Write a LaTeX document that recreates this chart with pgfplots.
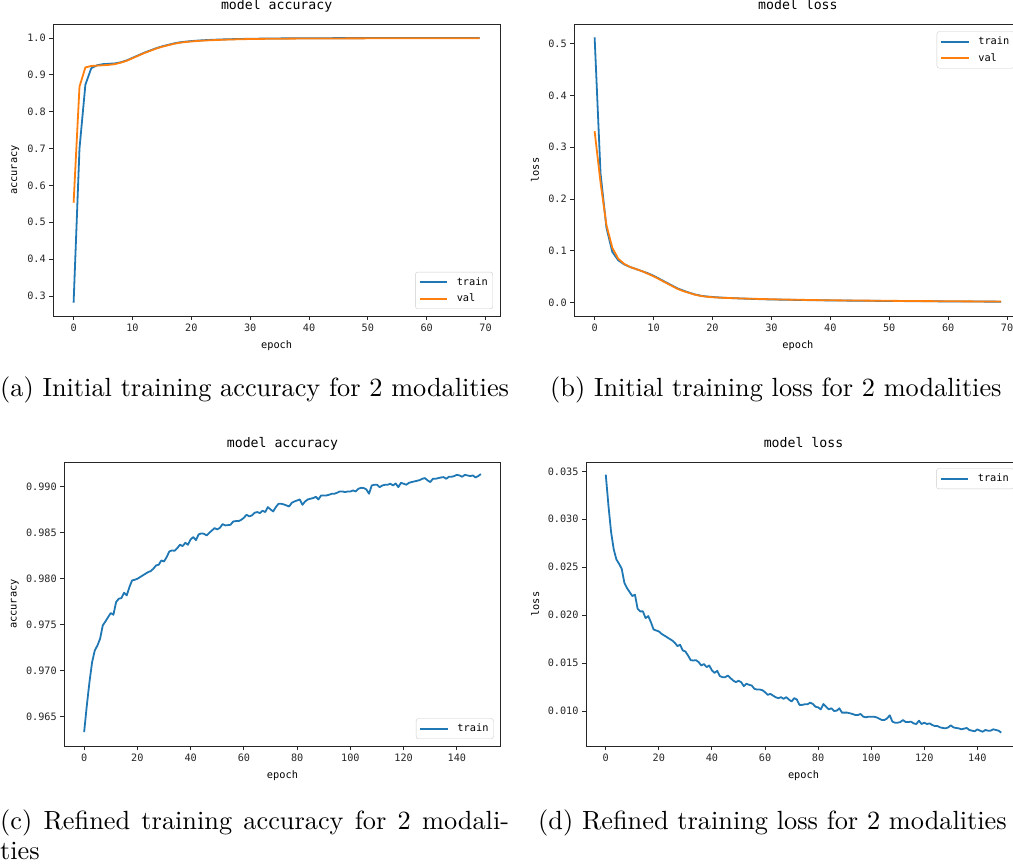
\documentclass[border=0pt]{standalone}
\usepackage{fontspec}
\usepackage{pgfplots}
\pgfplotsset{compat=1.18}
\newfontfamily\plotfont{DejaVu Sans Mono}
\definecolor{mplblue}{HTML}{1F77B4}
\definecolor{mplorange}{HTML}{FF7F0E}
\newcommand\tickfont{\fontsize{10.2}{12}\plotfont}
\newcommand\titlefont{\fontsize{13.2}{15}\plotfont}
\newcommand\labfont{\fontsize{10.3}{12}\plotfont}

\pgfplotsset{
  mpl/.style={
    scale only axis,
    scaled ticks=false,
    axis line style={black!85, line width=0.9pt},
    tick align=outside,
    tick pos=left,
    major tick length=4pt,
    every tick/.style={black!85, line width=0.9pt},
    ticklabel style={font=\tickfont, text=black!85},
    title style={font=\titlefont, at={(0.5,1)}, anchor=base, yshift=9pt},
    xlabel style={font=\labfont, at={(axis description cs:0.5,0)}, anchor=base, yshift=-33pt},
    ylabel style={font=\labfont, anchor=base, rotate=0},
    legend style={font=\labfont, draw=black!20, rounded corners=2.5pt, fill=white,
      inner xsep=3.5pt, inner ysep=4pt, row sep=4pt, column sep=7pt, nodes={inner sep=1.5pt}},
    legend cell align=left,
    legend image code/.code={\draw[#1, line width=1.8pt] (0pt,0pt) -- (27.6pt,0pt);},
    every axis plot/.append style={line width=1.8pt, line join=round, no markers},
  }
}

\begin{document}
\begin{tikzpicture}[x=1pt,y=1pt]
\useasboundingbox (0,0) rectangle (1013,863);

% (a)
\begin{axis}[mpl, at={(53.3pt,547pt)}, anchor=south west, width=446.7pt, height=291.7pt,
  xmin=-3.45, xmax=72.45, ymin=0.2457, ymax=1.0371,
  xtick={0,10,20,30,40,50,60,70}, xticklabels={0,10,20,30,40,50,60,70},
  ytick={0.3,0.4,0.5,0.6,0.7,0.8,0.9,1.0}, yticklabels={0.3,0.4,0.5,0.6,0.7,0.8,0.9,1.0},
  title={model accuracy}, xlabel={epoch}, ylabel={accuracy},
  ylabel style={at={(axis description cs:-0.0812,0.5)}},
  legend style={at={(1,0)}, anchor=south east, xshift=-7pt, yshift=7pt}]
\addplot[mplblue] coordinates {
(0,0.282)(1,0.700)(2,0.873)(3,0.918)(4,0.926)(5,0.929)(6,0.930)(7,0.931)(8,0.934)(9,0.939)
(10,0.946)(11,0.953)(12,0.960)(13,0.966)(14,0.972)(15,0.977)(16,0.981)(17,0.985)(18,0.988)(19,0.990)
(20,0.9915)(21,0.9928)(22,0.9938)(23,0.9946)(24,0.9953)(25,0.9959)(26,0.9964)(27,0.9968)(28,0.9972)(29,0.9975)
(30,0.9978)(31,0.9980)(32,0.9983)(33,0.9985)(34,0.9987)(35,0.9988)(36,0.9989)(37,0.9990)(38,0.9991)(39,0.9992)
(40,0.9993)(41,0.9993)(42,0.9994)(43,0.9994)(44,0.9995)(45,0.9995)(46,0.9995)(47,0.9996)(48,0.9996)(49,0.9996)
(50,0.9997)(51,0.9997)(52,0.9997)(53,0.9997)(54,0.9998)(55,0.9998)(56,0.9998)(57,0.9998)(58,0.9998)(59,0.9999)
(60,0.9999)(61,0.9999)(62,0.9999)(63,0.9999)(64,0.9999)(65,0.9999)(66,1.0000)(67,1.0000)(68,1.0000)(69,1.0000)};
\addlegendentry{train}
\addplot[mplorange] coordinates {
(0,0.553)(1,0.868)(2,0.920)(3,0.924)(4,0.925)(5,0.926)(6,0.927)(7,0.929)(8,0.933)(9,0.938)
(10,0.945)(11,0.952)(12,0.959)(13,0.965)(14,0.971)(15,0.976)(16,0.980)(17,0.984)(18,0.987)(19,0.989)
(20,0.9905)(21,0.9918)(22,0.9928)(23,0.9936)(24,0.9943)(25,0.9949)(26,0.9955)(27,0.9960)(28,0.9964)(29,0.9968)
(30,0.9971)(31,0.9973)(32,0.9975)(33,0.9977)(34,0.9979)(35,0.9980)(36,0.9981)(37,0.9982)(38,0.9983)(39,0.9984)
(40,0.9985)(41,0.9986)(42,0.9986)(43,0.9987)(44,0.9987)(45,0.9988)(46,0.9988)(47,0.9989)(48,0.9989)(49,0.9989)
(50,0.9990)(51,0.9990)(52,0.9990)(53,0.9991)(54,0.9991)(55,0.9991)(56,0.9992)(57,0.9992)(58,0.9992)(59,0.9992)
(60,0.9993)(61,0.9993)(62,0.9993)(63,0.9993)(64,0.9994)(65,0.9994)(66,0.9994)(67,0.9994)(68,0.9994)(69,0.9995)};
\addlegendentry{val}
\end{axis}

% (b)
\begin{axis}[mpl, at={(574.3pt,547pt)}, anchor=south west, width=447.2pt, height=291.7pt,
  xmin=-3.45, xmax=72.45, ymin=-0.0257, ymax=0.5374,
  xtick={0,10,20,30,40,50,60,70}, xticklabels={0,10,20,30,40,50,60,70},
  ytick={0,0.1,0.2,0.3,0.4,0.5}, yticklabels={0.0,0.1,0.2,0.3,0.4,0.5},
  title={model loss}, xlabel={epoch}, ylabel={loss},
  ylabel style={at={(axis description cs:-0.079,0.5)}},
  legend style={at={(1,1)}, anchor=north east, xshift=-7pt, yshift=-7pt}]
\addplot[mplblue] coordinates {
(0,0.512)(1,0.250)(2,0.145)(3,0.098)(4,0.082)(5,0.074)(6,0.069)(7,0.065)(8,0.061)(9,0.057)
(10,0.052)(11,0.046)(12,0.040)(13,0.034)(14,0.028)(15,0.0235)(16,0.0195)(17,0.016)(18,0.0135)(19,0.012)
(20,0.011)(21,0.0102)(22,0.0095)(23,0.0090)(24,0.0085)(25,0.0080)(26,0.0076)(27,0.0072)(28,0.0068)(29,0.0065)
(30,0.0062)(31,0.0060)(32,0.0058)(33,0.0056)(34,0.0054)(35,0.0052)(36,0.0050)(37,0.0048)(38,0.0047)(39,0.0045)
(40,0.0044)(41,0.0043)(42,0.0041)(43,0.0040)(44,0.0039)(45,0.0038)(46,0.0037)(47,0.0036)(48,0.0035)(49,0.0034)
(50,0.0033)(51,0.0032)(52,0.0031)(53,0.0030)(54,0.0029)(55,0.0028)(56,0.0027)(57,0.0027)(58,0.0026)(59,0.0025)
(60,0.0024)(61,0.0024)(62,0.0023)(63,0.0022)(64,0.0022)(65,0.0021)(66,0.0021)(67,0.0020)(68,0.0020)(69,0.0019)};
\addlegendentry{train}
\addplot[mplorange] coordinates {
(0,0.331)(1,0.232)(2,0.150)(3,0.106)(4,0.085)(5,0.075)(6,0.069)(7,0.065)(8,0.061)(9,0.056)
(10,0.051)(11,0.045)(12,0.039)(13,0.033)(14,0.027)(15,0.0225)(16,0.019)(17,0.0155)(18,0.013)(19,0.0115)
(20,0.0105)(21,0.0098)(22,0.0093)(23,0.0089)(24,0.0085)(25,0.0081)(26,0.0078)(27,0.0075)(28,0.0072)(29,0.0069)
(30,0.0066)(31,0.0063)(32,0.0061)(33,0.0059)(34,0.0057)(35,0.0055)(36,0.0053)(37,0.0051)(38,0.0049)(39,0.0048)
(40,0.0047)(41,0.0045)(42,0.0044)(43,0.0043)(44,0.0042)(45,0.0041)(46,0.0040)(47,0.0039)(48,0.0038)(49,0.0037)
(50,0.0036)(51,0.0035)(52,0.0034)(53,0.0033)(54,0.0032)(55,0.0031)(56,0.0030)(57,0.0030)(58,0.0029)(59,0.0028)
(60,0.0027)(61,0.0027)(62,0.0026)(63,0.0025)(64,0.0025)(65,0.0024)(66,0.0024)(67,0.0023)(68,0.0023)(69,0.0022)};
\addlegendentry{val}
\end{axis}

% (c)
\begin{axis}[mpl, at={(64.3pt,117pt)}, anchor=south west, width=436.4pt, height=283.7pt,
  xmin=-7.45, xmax=156.45, ymin=0.96182, ymax=0.99266,
  xtick={0,20,40,60,80,100,120,140}, xticklabels={0,20,40,60,80,100,120,140},
  ytick={0.965,0.970,0.975,0.980,0.985,0.990}, yticklabels={0.965,0.970,0.975,0.980,0.985,0.990},
  title={model accuracy}, xlabel={epoch}, ylabel={accuracy},
  ylabel style={at={(axis description cs:-0.109,0.5)}},
  legend style={at={(1,0)}, anchor=south east, xshift=-7pt, yshift=7pt}]
\addplot[mplblue] coordinates {
(0,0.96333)(1,0.9662)(2,0.96877)(3,0.97094)(4,0.97221)(5,0.97275)(6,0.97348)(7,0.97493)(8,0.97536)(9,0.97583)
(10,0.97627)(11,0.97609)(12,0.97746)(13,0.97783)(14,0.9779)(15,0.97848)(16,0.97819)(17,0.97909)(18,0.97982)(19,0.97989)
(20,0.98)(21,0.98018)(22,0.98036)(23,0.98054)(24,0.98072)(25,0.98083)(26,0.98109)(27,0.98145)(28,0.98152)(29,0.98199)
(30,0.98188)(31,0.98236)(32,0.98297)(33,0.98308)(34,0.98304)(35,0.98333)(36,0.9837)(37,0.98355)(38,0.98391)(39,0.9837)
(40,0.98428)(41,0.98453)(42,0.9842)(43,0.98482)(44,0.98493)(45,0.98489)(46,0.98471)(47,0.985)(48,0.98525)(49,0.98551)
(50,0.98536)(51,0.98554)(52,0.98594)(53,0.9858)(54,0.98583)(55,0.98587)(56,0.98623)(57,0.98627)(58,0.98627)(59,0.98641)
(60,0.98663)(61,0.98696)(62,0.98678)(63,0.98688)(64,0.98717)(65,0.98725)(66,0.98714)(67,0.98739)(68,0.98725)(69,0.98779)
(70,0.98754)(71,0.98732)(72,0.98779)(73,0.98815)(74,0.98815)(75,0.98808)(76,0.98797)(77,0.98786)(78,0.98826)(79,0.98841)
(80,0.98851)(81,0.98862)(82,0.98804)(83,0.98841)(84,0.98862)(85,0.9887)(86,0.98877)(87,0.98891)(88,0.98862)(89,0.98906)
(90,0.98906)(91,0.98906)(92,0.98913)(93,0.98924)(94,0.98924)(95,0.98935)(96,0.98949)(97,0.98949)(98,0.98942)(99,0.98949)
(100,0.98949)(101,0.9896)(102,0.98949)(103,0.98978)(104,0.98989)(105,0.98986)(106,0.98971)(107,0.98924)(108,0.99014)(109,0.99022)
(110,0.99022)(111,0.98996)(112,0.99014)(113,0.99022)(114,0.99022)(115,0.99033)(116,0.99014)(117,0.99036)(118,0.98996)(119,0.99043)
(120,0.99033)(121,0.99022)(122,0.99043)(123,0.99051)(124,0.99058)(125,0.99065)(126,0.99072)(127,0.99087)(128,0.99094)(129,0.99069)
(130,0.99051)(131,0.99087)(132,0.99087)(133,0.99094)(134,0.99101)(135,0.99105)(136,0.99087)(137,0.99109)(138,0.99109)(139,0.99116)
(140,0.9913)(141,0.99123)(142,0.99109)(143,0.9913)(144,0.99123)(145,0.99116)(146,0.99123)(147,0.99101)(148,0.99116)(149,0.99138)};
\addlegendentry{train}
\end{axis}

% (d)
\begin{axis}[mpl, at={(586pt,117pt)}, anchor=south west, width=435pt, height=283.7pt,
  xmin=-7.45, xmax=156.45, ymin=0.00635, ymax=0.03594,
  xtick={0,20,40,60,80,100,120,140}, xticklabels={0,20,40,60,80,100,120,140},
  ytick={0.010,0.015,0.020,0.025,0.030,0.035}, yticklabels={0.010,0.015,0.020,0.025,0.030,0.035},
  title={model loss}, xlabel={epoch}, ylabel={loss},
  ylabel style={at={(axis description cs:-0.108,0.5)}},
  legend style={at={(1,1)}, anchor=north east, xshift=-7pt, yshift=-6pt}]
\addplot[mplblue] coordinates {
(0,0.03465)(1,0.03145)(2,0.02867)(3,0.02686)(4,0.02581)(5,0.02536)(6,0.02484)(7,0.02338)(8,0.02282)(9,0.0224)
(10,0.02199)(11,0.02213)(12,0.02066)(13,0.02039)(14,0.02039)(15,0.01969)(16,0.0199)(17,0.01927)(18,0.01851)(19,0.0184)
(20,0.0183)(21,0.01805)(22,0.01788)(23,0.01771)(24,0.01753)(25,0.01736)(26,0.01712)(27,0.01677)(28,0.01691)(29,0.01632)
(30,0.01621)(31,0.01579)(32,0.0153)(33,0.01527)(34,0.0153)(35,0.0151)(36,0.01475)(37,0.01489)(38,0.01458)(39,0.01475)
(40,0.01423)(41,0.01398)(42,0.01419)(43,0.01364)(44,0.01353)(45,0.01353)(46,0.0137)(47,0.01343)(48,0.01318)(49,0.01301)
(50,0.01315)(51,0.01301)(52,0.01259)(53,0.01284)(54,0.01273)(55,0.01266)(56,0.01231)(57,0.01224)(58,0.01224)(59,0.01217)
(60,0.01196)(61,0.01168)(62,0.01179)(63,0.01161)(64,0.01144)(65,0.01134)(66,0.01144)(67,0.01127)(68,0.01144)(69,0.0112)
(70,0.01099)(71,0.01134)(72,0.0112)(73,0.01064)(74,0.01064)(75,0.0107)(76,0.0107)(77,0.01087)(78,0.01073)(79,0.01045)
(80,0.01038)(81,0.01017)(82,0.01073)(83,0.01045)(84,0.01017)(85,0.01028)(86,0.0100)(87,0.01003)(88,0.01028)(89,0.00983)
(90,0.00983)(91,0.00983)(92,0.00976)(93,0.00969)(94,0.00958)(95,0.00958)(96,0.00969)(97,0.00941)(98,0.00934)(99,0.00941)
(100,0.00941)(101,0.00941)(102,0.00934)(103,0.0092)(104,0.00906)(105,0.00906)(106,0.00923)(107,0.00955)(108,0.00889)(109,0.00878)
(110,0.00878)(111,0.00885)(112,0.00906)(113,0.00885)(114,0.00885)(115,0.00889)(116,0.00871)(117,0.00864)(118,0.00899)(119,0.00864)
(120,0.00878)(121,0.00864)(122,0.00871)(123,0.00854)(124,0.00843)(125,0.00843)(126,0.00829)(127,0.00823)(128,0.00819)(129,0.00829)
(130,0.0085)(131,0.00829)(132,0.00823)(133,0.00819)(134,0.00809)(135,0.00816)(136,0.00823)(137,0.00802)(138,0.00795)(139,0.00788)
(140,0.00809)(141,0.00795)(142,0.00784)(143,0.00802)(144,0.00795)(145,0.00795)(146,0.00809)(147,0.00802)(148,0.00795)(149,0.00774)};
\addlegendentry{train}
\end{axis}

% captions
\node[anchor=base west, inner sep=0pt] at (0,466.5) {\scalebox{2.63}{(a) Initial training accuracy for 2 modalities}};
\node[anchor=base west, inner sep=0pt] at (550,466.5) {\scalebox{2.63}{(b) Initial training loss for 2 modalities}};
\node[anchor=base west, inner sep=0pt] at (0,33.5) {\scalebox{2.63}{\makebox[193.5pt][s]{(c) Refined training accuracy for 2 modali-}}};
\node[anchor=base west, inner sep=0pt] at (0,4) {\scalebox{2.63}{ties}};
\node[anchor=base west, inner sep=0pt] at (538,33.5) {\scalebox{2.63}{(d) Refined training loss for 2 modalities}};
\end{tikzpicture}
\end{document}
